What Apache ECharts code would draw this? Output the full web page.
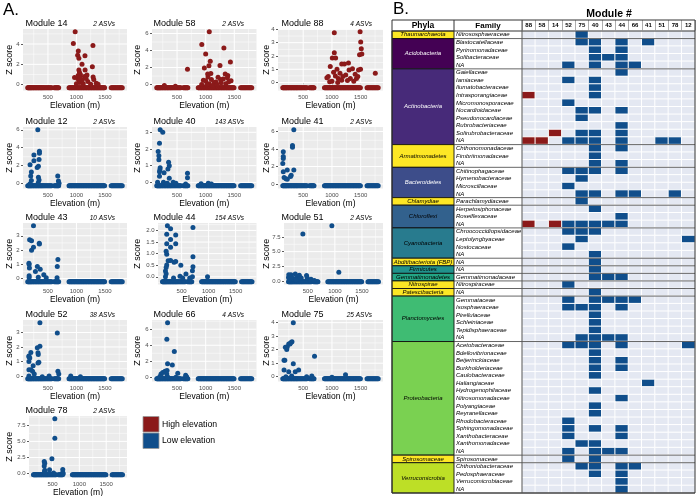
<!DOCTYPE html>
<html><head><meta charset="utf-8">
<script src="https://cdn.jsdelivr.net/npm/echarts@6/dist/echarts.min.js"></script>
<style>html,body{margin:0;padding:0;background:#fff}#c{width:696px;height:496px}</style>
</head><body><div id="c"></div><script>
// ---------------- DATA ----------------
const xTicks = [500, 1000, 1500];
const sampleElev = [145,155,165,175,185,195,205,215,228,240,252,265,278,290,302,315,328,340,352,365,378,390,402,415,430,445,460,475,490,505,520,535,550,565,610,625,640,652,664,676,688,
  870,882,895,908,920,932,945,958,970,982,995,1008,1020,1032,1045,1058,1070,1082,1095,1108,1120,1132,1145,1158,1170,1182,1195,1208,1220,1232,1245,1258,1270,1282,1295,1308,1320,1332,1345,1358,1370,1382,1395,1408,1420,1432,1445,1458,1470,1482,1495,
  1610,1625,1640,1655,1670,1685,1700,1715,1730,1745,1760,1775,1790,1805];

const panelModules = ['14','58','88','12','40','41','43','44','51','52','66','75','78'];
const panelASVs = ['2 ASVs','2 ASVs','4 ASVs','2 ASVs','143 ASVs','2 ASVs','10 ASVs','154 ASVs','2 ASVs','38 ASVs','4 ASVs','25 ASVs','2 ASVs'];
const highModules = ['88','58','14'];
const baseZ = [-0.3,-0.37,-0.39,-0.23,-0.2,-0.2,-0.22,-0.21,-0.12,-0.19,-0.17,-0.15,-0.16];
const yTicks = [[0,2,4],[0,2,4,6],[0,1,2,3,4],[0,2,4,6],[0,1,2,3],[0,2,4,6],[0,1,2,3],[0,0.5,1,1.5,2],[0,2.5,5,7.5],[0,1,2,3],[0,2,4,6],[0,1,2,3,4],[0,2.5,5,7.5]];
const yDecimals = [0,0,0,0,0,0,0,1,1,0,0,0,1];

const pts14 = [[978,5.2],[946,4.05],[1290,3.85],[1033,3.3],[1022,2.9],[1043,2.6],[1150,2.85],[1098,2.0],[1280,1.75],[1043,1.45],[1054,1.2],[1152,1.45],[1185,0.95],[967,0.7],[1022,0.6],[1043,0.4],[1141,0.8],[1293,0.75],[1348,0.15],[1304,0.5],[1060,0.2],[1120,0.1],[1200,0.3],[1000,0.1],[1250,0.05],[1380,0.05],[1100,0.45],[1170,0.6],[1030,0.9],[1070,1.0],[1060,0.7]];
const pts58 = [[1063,6.2],[932,4.7],[1000,3.6],[1318,4.3],[1080,2.75],[1432,2.65],[977,1.95],[1250,2.25],[1057,2.2],[682,1.8],[1034,1.25],[1341,1.25],[1386,1.05],[1307,0.65],[1216,0.85],[1000,0.45],[1148,0.25],[1443,0.45],[1040,0.9],[1100,0.6],[960,0.5],[1180,0.3],[1270,0.2],[1060,0.1],[1350,0.1],[1400,0.3],[278,-0.1],[470,-0.2],[1090,1.3],[1260,0.6],[1020,0.0],[1120,-0.1],[1200,0.0],[930,0.0],[1380,0.8]];
const pts88 = [[1041,3.74],[1490,3.82],[1500,3.05],[1510,2.55],[1480,2.1],[1520,2.15],[1041,2.25],[1006,1.85],[1064,1.85],[971,1.2],[1170,1.4],[1216,1.4],[1287,1.47],[1088,1.0],[1029,0.77],[936,0.46],[912,0.36],[1240,0.57],[1298,0.95],[1357,1.03],[1462,0.95],[1497,1.0],[1404,0.62],[1427,0.3],[1754,0.7],[1111,0.3],[1170,0.18],[1000,0.1],[1060,0.5],[1140,0.7],[1190,0.45],[1320,0.3],[1380,0.1],[1450,0.45],[1270,0.15],[960,0.05],[1100,0.0]];
const pts12 = [[322,6.0],[350,3.6],[350,3.4],[254,3.2],[344,2.7],[254,2.55],[186,2.1],[333,1.95],[311,1.8],[209,1.3],[198,0.85],[672,0.85],[333,0.7],[344,0.4],[209,0.35],[684,0.3],[695,0.05],[186,0.0],[330,0.1]];
const pts40 = [[205,3.15],[250,3.0],[193,2.35],[170,1.85],[182,1.6],[182,1.35],[352,1.2],[364,1.0],[205,0.88],[341,0.8],[200,0.75],[193,0.64],[273,0.57],[682,0.55],[193,0.37],[364,0.25],[682,0.27],[262,0.0],[432,0.0],[1045,-0.05],[307,-0.1],[160,0.0],[480,-0.05],[650,-0.1],[920,-0.08],[1100,-0.1],[330,-0.05]];
const pts41 = [[337,6.2],[314,4.4],[314,4.2],[154,3.7],[154,3.15],[154,2.9],[145,2.35],[223,1.6],[337,1.6],[154,1.4],[291,1.0],[280,0.85],[168,0.73],[200,0.6],[223,0.53]];
const pts43 = [[246,3.7],[178,2.73],[212,2.66],[347,2.47],[350,2.42],[246,2.2],[212,1.99],[675,1.34],[166,1.08],[170,0.98],[175,0.74],[664,0.84],[314,0.84],[364,0.65],[280,0.5],[427,0.26],[170,0.2],[170,0.07],[330,0.1],[470,0.05],[660,0.05]];
const pts44 = [[236,2.2],[710,2.13],[295,2.07],[224,1.84],[390,1.8],[295,1.61],[390,1.43],[224,1.43],[295,1.28],[213,1.1],[224,0.97],[250,0.69],[224,0.51],[213,0.4],[200,0.25],[213,0.13],[295,0.7],[390,0.66],[360,0.63],[485,0.5],[580,0.12],[470,0.03],[710,0.87],[710,0.43],[700,0.26],[700,0.0],[650,-0.05],[980,0.0],[200,0.0],[350,-0.05],[520,-0.05]];
const pts51 = [[945,9.4],[410,8.0],[1073,1.5],[150,1.05],[145,0.58],[190,1.05],[270,1.2],[300,0.8],[345,1.0],[478,0.92],[490,0.5],[230,0.4],[330,0.3],[160,0.2],[280,0.2],[380,0.5],[560,0.3],[620,0.1],[200,0.7]];
const pts52 = [[359,3.67],[664,2.96],[359,2.05],[313,1.95],[325,1.6],[200,1.62],[166,1.38],[180,1.24],[166,1.33],[330,1.48],[325,0.9],[340,0.95],[166,1.0],[166,0.43],[200,0.43],[230,0.33],[240,0.71],[260,0.14],[675,0.33],[690,0.14],[520,0.0],[1070,-0.05],[900,0.0],[166,0.0],[400,-0.05]];
const pts66 = [[334,6.8],[321,4.76],[452,3.23],[334,1.7],[417,1.53],[512,0.51],[325,0.85],[290,0.76],[250,0.6],[220,0.42],[320,0.42],[666,0.08],[650,0.25],[200,0.1],[230,0.0],[340,0.0],[480,0.0]];
const pts75 = [[328,3.99],[305,2.58],[283,2.52],[248,2.42],[270,2.42],[224,2.22],[190,2.17],[214,2.02],[697,1.52],[180,1.21],[167,1.21],[328,0.96],[167,0.5],[248,0.36],[362,0.36],[421,0.5],[1236,0.15],[200,0.0],[300,0.05],[560,0.0],[650,0.05],[1000,-0.05]];
const pts78 = [[543,8.5],[543,5.5],[346,1.87],[355,1.6],[346,1.18],[355,0.53],[489,2.3],[445,0.6],[691,0.65],[691,0.2],[520,0.1],[420,0.0],[350,0.25],[360,0.0],[700,0.0]];
const panelPoints = [pts14,pts58,pts88,pts12,pts40,pts41,pts43,pts44,pts51,pts52,pts66,pts75,pts78];

// Panel B table
const moduleCols = ['88','58','14','52','75','40','43','44','66','41','51','78','12'];
const phylaOrder = ['Thaumarchaeota','Acidobacteria','Actinobacteria','Armatimonadetes','Bacteroidetes','Chlamydiae','Chloroflexi','Cyanobacteria','Abditibacteriota (FBP)','Firmicutes','Gemmatimonadetes','Nitrospirae','Patescibacteria','Planctomycetes','Proteobacteria','Spirosomaceae','Verrucomicrobia'];
const tableRows = [
 ['Thaumarchaeota','Nitrososphaeraceae',[75]],
 ['Acidobacteria','Blastocatellaceae',[75,40,44,41]],
 ['Acidobacteria','Pyrinomonadaceae',[40,44]],
 ['Acidobacteria','Solibacteraceae',[40,43,44]],
 ['Acidobacteria','NA',[52,40,44,66]],
 ['Actinobacteria','Gaiellaceae',[44]],
 ['Actinobacteria','Iamiaceae',[52,40]],
 ['Actinobacteria','Ilumatobacteraceae',[40]],
 ['Actinobacteria','Intrasporangiaceae',[88,40]],
 ['Actinobacteria','Micromonosporaceae',[52]],
 ['Actinobacteria','Nocardioidaceae',[75,40,44]],
 ['Actinobacteria','Pseudonocardiaceae',[75]],
 ['Actinobacteria','Rubrobacteriaceae',[44]],
 ['Actinobacteria','Solirubrobacteraceae',[14,75,40,44]],
 ['Actinobacteria','NA',[88,58,52,75,40,44,51,78]],
 ['Armatimonadetes','Chthonomonadaceae',[40,44]],
 ['Armatimonadetes','Fimbriimonadaceae',[40]],
 ['Armatimonadetes','NA',[40,44]],
 ['Bacteroidetes','Chitinophagaceae',[52,75,40,44]],
 ['Bacteroidetes','Hymenobacteraceae',[75]],
 ['Bacteroidetes','Microscillaceae',[52]],
 ['Bacteroidetes','NA',[75,40,44,66,78]],
 ['Chlamydiae','Parachlamydiaceae',[75]],
 ['Chloroflexi','Herpetosiphonaceae',[40]],
 ['Chloroflexi','Roseiflexaceae',[44]],
 ['Chloroflexi','NA',[88,14,52,75,40,43,44]],
 ['Cyanobacteria','Chroococcidiopsidaceae',[52,75,40]],
 ['Cyanobacteria','Leptolyngbyaceae',[75,12]],
 ['Cyanobacteria','Nostocaceae',[52]],
 ['Cyanobacteria','NA',[40]],
 ['Abditibacteriota (FBP)','NA',[40]],
 ['Firmicutes','NA',[40]],
 ['Gemmatimonadetes','Gemmatimonadaceae',[40,43,44]],
 ['Nitrospirae','Nitrospiraceae',[52]],
 ['Patescibacteria','NA',[40]],
 ['Planctomycetes','Gemmataceae',[52,40,43,44,66]],
 ['Planctomycetes','Isosphaeraceae',[52,75,40,44]],
 ['Planctomycetes','Pirellulaceae',[40]],
 ['Planctomycetes','Schleiniaceae',[40]],
 ['Planctomycetes','Tepidisphaeraceae',[40]],
 ['Planctomycetes','NA',[75,40,43,44]],
 ['Proteobacteria','Acetobacteraceae',[52,75,40,44,12]],
 ['Proteobacteria','Bdellovibrionaceae',[40]],
 ['Proteobacteria','Beijerinckiaceae',[40,44]],
 ['Proteobacteria','Burkholderiaceae',[40,44]],
 ['Proteobacteria','Caulobacteraceae',[40]],
 ['Proteobacteria','Haliangiaceae',[41]],
 ['Proteobacteria','Hydrogenophilaceae',[40]],
 ['Proteobacteria','Nitrosomonadaceae',[44]],
 ['Proteobacteria','Polyangiaceae',[40]],
 ['Proteobacteria','Reyranellaceae',[40]],
 ['Proteobacteria','Rhodobacteraceae',[52]],
 ['Proteobacteria','Sphingomonadaceae',[52,40,44]],
 ['Proteobacteria','Xanthobacteraceae',[52,44]],
 ['Proteobacteria','Xanthomonadaceae',[75,40]],
 ['Proteobacteria','NA',[52,40,43,44]],
 ['Spirosomaceae','Spirosomaceae',[52,40]],
 ['Verrucomicrobia','Chthoniobacteraceae',[75,40,44,66]],
 ['Verrucomicrobia','Pedosphaeraceae',[40,44]],
 ['Verrucomicrobia','Verrucomicrobiaceae',[44]],
 ['Verrucomicrobia','NA',[44]]
];

// ---------------- STYLE / LAYOUT ----------------
const FONT = "'Liberation Sans', Arial, Helvetica, sans-serif";
const RED = '#8B1A1A', BLUE = '#104E8B';
const phylaFill = ['#FDE725','#440154','#472A79','#FDE725','#3D4D8A','#FDE725','#32618D','#287B8E','#FDE725','#20928C','#23A585','#FDE725','#FDE725','#3FBC73','#7AD151','#FDE725','#BDDF26'];
const phylaText = ['#000','#fff','#fff','#000','#fff','#000','#000','#000','#000','#000','#000','#000','#000','#000','#000','#000','#000'];
const colBaseLeft = [23, 152, 278];
const colRight = [127, 256.5, 383];
const titleX = [25.5, 153.5, 281.5];
const asvRightX = [115, 244, 372];
const zLabelX = [9.5, 137.5, 266.5];
const rowTop = [29, 127, 223, 320, 416];
const PANEL_H = 61.5;

const T_LEFT = 392, T_PHY_R = 454, T_FAM_R = 522, T_RIGHT = 695, T_HEAD_TOP = 20, T_TOP = 31, T_BOTTOM = 493;

const option = {
  animation: false,
  textStyle: {fontFamily: FONT},
  grid: [], xAxis: [], yAxis: [], series: [], graphic: [],
};

const xs = sampleElev;
const xlo = Math.min(...xs), xhi = Math.max(...xs), xpad = 0.05 * (xhi - xlo);
const X_MIN = xlo - xpad, X_MAX = xhi + xpad;
const xMinor = [250, 750, 1250, 1750];

function minorsOf(ticks, lo, hi) {
  const st = ticks[1] - ticks[0];
  const out = [ticks[0] - st / 2].concat(ticks.map(t => t + st / 2));
  return out.filter(v => v > lo && v < hi);
}

// white panel grid lines, drawn via each panel's own axes
function gridLineRenderer(params, api) {
  const axisFlag = api.value(0), v = api.value(1), w = api.value(2);
  const cs = params.coordSys;
  let shape;
  if (axisFlag === 0) {
    const x = api.coord([v, 0])[0];
    shape = {x1: x, y1: cs.y, x2: x, y2: cs.y + cs.height};
  } else {
    const y = api.coord([X_MIN, v])[1];
    shape = {x1: cs.x, y1: y, x2: cs.x + cs.width, y2: y};
  }
  return {type: 'line', shape, style: {stroke: '#FFFFFF', lineWidth: w}};
}

panelModules.forEach((mod, i) => {
  const r = Math.floor(i / 3), c = i % 3;
  const left = colBaseLeft[c] + (yDecimals[i] ? 6 : 0);
  const top = rowTop[r];
  const width = colRight[c] - left;
  option.grid.push({left, top, width, height: PANEL_H, show: true, backgroundColor: '#EBEBEB', borderWidth: 0, outerBoundsMode: 'none', containLabel: false});
  const data = sampleElev.map(e => [e, baseZ[i]]).concat(panelPoints[i]);
  const ys = data.map(p => p[1]);
  const ylo = Math.min(...ys), yhi = Math.max(...ys), ypad = 0.05 * (yhi - ylo);
  const ymin = ylo - ypad, ymax = yhi + ypad;
  const dec = yDecimals[i];
  option.xAxis.push({
    gridIndex: i, type: 'value', min: X_MIN, max: X_MAX,
    axisLine: {show: false},
    axisTick: {show: true, length: 2, lineStyle: {color: '#333', width: 0.8}, customValues: xTicks},
    axisLabel: {show: true, customValues: xTicks, fontSize: 6, color: '#4D4D4D', margin: 3.5, formatter: v => String(v), fontFamily: FONT},
    splitLine: {show: false},
    name: 'Elevation (m)', nameLocation: 'middle', nameGap: 10.5,
    nameTextStyle: {fontSize: 8.5, color: '#000', fontFamily: FONT}
  });
  option.yAxis.push({
    gridIndex: i, type: 'value', min: ymin, max: ymax,
    axisLine: {show: false},
    axisTick: {show: true, length: 2, lineStyle: {color: '#333', width: 0.8}, customValues: yTicks[i]},
    axisLabel: {show: true, customValues: yTicks[i], fontSize: 6, color: '#4D4D4D', margin: 3.5, formatter: v => Number(v).toFixed(dec), fontFamily: FONT},
    splitLine: {show: false}
  });
  const ym = minorsOf(yTicks[i], ymin, ymax);
  const gridLines = []
    .concat(xMinor.map(v => [0, v, 0.5]))
    .concat(ym.map(v => [1, v, 0.5]))
    .concat(xTicks.map(v => [0, v, 1]))
    .concat(yTicks[i].map(v => [1, v, 1]));
  option.series.push({
    type: 'custom', xAxisIndex: i, yAxisIndex: i, data: gridLines, silent: true, z: 1, clip: false,
    encode: {x: -1, y: -1},
    renderItem: gridLineRenderer
  });
  option.series.push({
    type: 'scatter', xAxisIndex: i, yAxisIndex: i, data,
    symbolSize: 5, itemStyle: {color: highModules.includes(mod) ? RED : BLUE, opacity: 1},
    silent: true, z: 6
  });
  option.graphic.push(
    {type: 'text', x: titleX[c], y: top - 5, style: {text: 'Module ' + mod, fontSize: 9, fontFamily: FONT, fill: '#000', align: 'left', verticalAlign: 'middle', textAlign: 'left', textVerticalAlign: 'middle'}},
    {type: 'text', x: asvRightX[c], y: top - 5, style: {text: panelASVs[i], fontSize: 6.5, fontStyle: 'italic', fontFamily: FONT, fill: '#000', align: 'right', verticalAlign: 'middle', textAlign: 'right', textVerticalAlign: 'middle'}},
    {type: 'text', x: zLabelX[c], y: top + PANEL_H / 2, rotation: Math.PI / 2, style: {text: 'Z score', fontSize: 9, fontFamily: FONT, fill: '#000', align: 'center', verticalAlign: 'middle', textAlign: 'center', textVerticalAlign: 'middle'}}
  );
});

// Legend (panel A)
option.graphic.push(
  {type: 'rect', shape: {x: 143, y: 416.5, width: 16, height: 15.5}, style: {fill: RED, stroke: '#999', lineWidth: 0.8}},
  {type: 'rect', shape: {x: 143, y: 433, width: 16, height: 15.5}, style: {fill: BLUE, stroke: '#999', lineWidth: 0.8}},
  {type: 'text', x: 162, y: 424.5, style: {text: 'High elevation', fontSize: 8.7, fontFamily: FONT, fill: '#000', align: 'left', verticalAlign: 'middle', textAlign: 'left', textVerticalAlign: 'middle'}},
  {type: 'text', x: 162, y: 441, style: {text: 'Low elevation', fontSize: 8.7, fontFamily: FONT, fill: '#000', align: 'left', verticalAlign: 'middle', textAlign: 'left', textVerticalAlign: 'middle'}},
  {type: 'text', x: 3, y: 10.5, style: {text: 'A.', fontSize: 17, fontFamily: FONT, fill: '#000', align: 'left', verticalAlign: 'middle', textAlign: 'left', textVerticalAlign: 'middle'}},
  {type: 'text', x: 393, y: 9.5, style: {text: 'B.', fontSize: 17, fontFamily: FONT, fill: '#000', align: 'left', verticalAlign: 'middle', textAlign: 'left', textVerticalAlign: 'middle'}}
);

// ---------------- PANEL B ----------------
const rowIds = tableRows.map((r, i) => String(i));
const PHY_GRID = panelModules.length, HEAT_GRID = PHY_GRID + 1;
const AX_PHY = option.xAxis.length, AX_HEAT = AX_PHY + 1;
option.grid.push({left: T_LEFT, top: T_TOP, width: T_PHY_R - T_LEFT, height: T_BOTTOM - T_TOP, outerBoundsMode: 'none', containLabel: false});
option.grid.push({left: T_FAM_R, top: T_TOP, width: T_RIGHT - T_FAM_R, height: T_BOTTOM - T_TOP, outerBoundsMode: 'none', containLabel: false});
option.xAxis.push({gridIndex: PHY_GRID, type: 'value', min: 0, max: 1, show: false});
option.yAxis.push({gridIndex: PHY_GRID, type: 'category', data: rowIds, inverse: true, show: false});
option.xAxis.push({
  gridIndex: HEAT_GRID, type: 'category', data: moduleCols, position: 'top',
  axisLine: {show: false},
  axisTick: {show: true, length: 11, lineStyle: {color: '#9a9a9a', width: 0.8}},
  axisLabel: {interval: 0, fontSize: 6, fontWeight: 'bold', color: '#000', margin: 2.5, fontFamily: FONT},
  splitLine: {show: false}
});
option.yAxis.push({
  gridIndex: HEAT_GRID, type: 'category', data: rowIds, inverse: true,
  axisLine: {show: false}, axisTick: {show: false},
  axisLabel: {interval: 0, align: 'left', margin: T_FAM_R - T_PHY_R - 2, fontSize: 6, fontStyle: 'italic', color: '#000', fontFamily: FONT,
    formatter: v => tableRows[+v][1]},
  splitLine: {show: false}
});

const heatData = [];
tableRows.forEach((row, ri) => {
  moduleCols.forEach((m, ci) => {
    const present = row[2].includes(+m);
    heatData.push([ci, ri, present ? (highModules.includes(m) ? 2 : 1) : 0]);
  });
});
const HEAT_SERIES = option.series.length;
option.series.push({
  type: 'heatmap', xAxisIndex: AX_HEAT, yAxisIndex: AX_HEAT, data: heatData,
  itemStyle: {borderColor: '#fff', borderWidth: 1}, silent: true, z: 2,
  emphasis: {disabled: true}
});
option.visualMap = [{
  type: 'piecewise', show: false, seriesIndex: HEAT_SERIES, dimension: 2,
  pieces: [{value: 0, color: '#E4E8F2'}, {value: 1, color: BLUE}, {value: 2, color: RED}]
}];

// phylum blocks
const phyBlocks = [];
tableRows.forEach((row, ri) => {
  const k = phylaOrder.indexOf(row[0]);
  const last = phyBlocks[phyBlocks.length - 1];
  if (last && last[2] === k) last[1] = ri; else phyBlocks.push([ri, ri, k]);
});
option.series.push({
  type: 'custom', xAxisIndex: AX_PHY, yAxisIndex: AX_PHY, data: phyBlocks, silent: true, z: 10,
  renderItem: (params, api) => {
    const s = api.value(0), e = api.value(1), k = api.value(2);
    const cs = params.coordSys;
    const band = api.size([0, 1])[1];
    const c0 = api.coord([0, s]);
    const y0 = c0[1] - band / 2, h = (e - s + 1) * band;
    return {type: 'group', children: [
      {type: 'rect', shape: {x: cs.x, y: y0, width: cs.width, height: h}, style: {fill: phylaFill[k], stroke: '#111', lineWidth: 0.9}},
      {type: 'text', style: {text: phylaOrder[k], x: cs.x + cs.width / 2, y: y0 + h / 2, align: 'center', verticalAlign: 'middle', textAlign: 'center', textVerticalAlign: 'middle', fontSize: 6, fontStyle: 'italic', fontFamily: FONT, fill: phylaText[k]}},
      {type: 'line', shape: {x1: cs.x + cs.width, y1: y0 + h, x2: T_RIGHT, y2: y0 + h}, style: {stroke: '#555', lineWidth: 0.9}}
    ]};
  }
});

// table chrome
option.graphic.push(
  {type: 'rect', z: 50, shape: {x: T_LEFT, y: T_HEAD_TOP, width: T_RIGHT - T_LEFT, height: T_BOTTOM - T_HEAD_TOP}, style: {fill: 'none', stroke: '#333', lineWidth: 1}},
  {type: 'line', z: 50, shape: {x1: T_LEFT, y1: T_TOP, x2: T_RIGHT, y2: T_TOP}, style: {stroke: '#333', lineWidth: 1}},
  {type: 'line', z: 50, shape: {x1: T_PHY_R, y1: T_HEAD_TOP, x2: T_PHY_R, y2: T_TOP}, style: {stroke: '#333', lineWidth: 1}},
  {type: 'line', z: 50, shape: {x1: T_FAM_R, y1: T_HEAD_TOP, x2: T_FAM_R, y2: T_BOTTOM}, style: {stroke: '#555', lineWidth: 1}},
  {type: 'text', x: (T_LEFT + T_PHY_R) / 2, y: 25.8, style: {text: 'Phyla', fontSize: 8.5, fontWeight: 'bold', fontFamily: FONT, fill: '#000', align: 'center', verticalAlign: 'middle', textAlign: 'center', textVerticalAlign: 'middle'}},
  {type: 'text', x: (T_PHY_R + T_FAM_R) / 2, y: 25.8, style: {text: 'Family', fontSize: 8, fontWeight: 'bold', fontFamily: FONT, fill: '#000', align: 'center', verticalAlign: 'middle', textAlign: 'center', textVerticalAlign: 'middle'}},
  {type: 'text', x: 609, y: 14, style: {text: 'Module #', fontSize: 10.5, fontWeight: 'bold', fontFamily: FONT, fill: '#000', align: 'center', verticalAlign: 'middle', textAlign: 'center', textVerticalAlign: 'middle'}}
);

const chart = echarts.init(document.getElementById('c'), null, {renderer: 'canvas'});
chart.setOption(option);
</script></body></html>
